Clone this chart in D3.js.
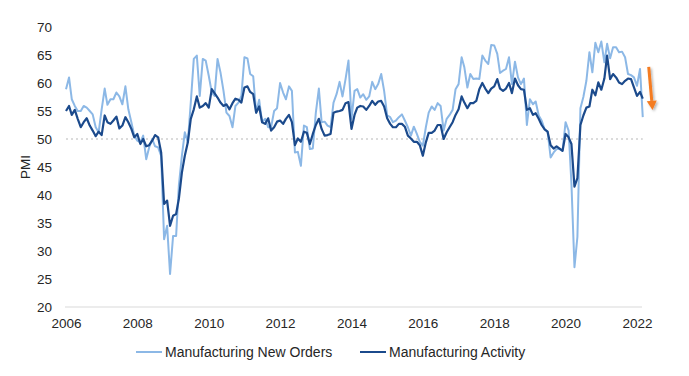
<!DOCTYPE html>
<html lang="en">
<head>
    <meta charset="UTF-8">
    <title>PMI</title>
    <script type="text/javascript" src="https://d3js.org/d3.v7.min.js"></script>
    <style>
        body { margin: 0; background: #fff; }
        text { font-family: "Liberation Sans", Arial, sans-serif; fill: #262626; }
    </style>
</head>
<body>
<svg height="376" width="689"></svg>

<script>

    // monthly, Jan 2006 - Mar 2022
    var startMonth = new Date(2006, 0, 1);
    var seriesNames = ['Manufacturing New Orders', 'Manufacturing Activity'];
    var seriesColors = ['#8cb8e6', '#1b4a8c'];

    var newOrders = [
        58.9, 61.0, 57.1, 55.9, 55.0, 55.0, 55.9, 55.6, 55.0, 54.4, 52.1, 51.2,
        55.3, 59.0, 56.1, 57.1, 57.1, 58.3, 57.6, 56.2, 59.4, 55.3, 53.0, 50.6,
        49.7, 49.4, 50.6, 46.4, 48.5, 50.0, 48.7, 48.5, 47.0, 32.1, 34.5, 25.9,
        32.7, 32.7, 41.7, 47.0, 51.2, 49.4, 56.5, 64.3, 64.9, 57.7, 64.3, 64.0,
        61.3, 58.3, 57.7, 64.3, 61.9, 58.6, 54.7, 54.1, 52.1, 55.9, 56.5, 57.7,
        64.6, 64.4, 61.6, 61.2, 54.7, 57.0, 53.0, 53.6, 52.1, 52.1, 55.0, 55.5,
        60.0, 58.3, 57.1, 59.4, 58.6, 47.6, 47.7, 45.2, 52.4, 52.1, 48.2, 48.3,
        54.7, 59.0, 53.0, 53.1, 52.4, 52.1, 56.5, 58.0, 60.2, 57.6, 60.7, 64.0,
        53.6, 58.6, 58.9, 57.4, 58.0, 57.0, 57.6, 60.2, 58.9, 59.8, 61.6, 58.6,
        54.2, 53.9, 53.0, 53.3, 53.9, 54.4, 53.3, 52.1, 50.6, 52.2, 50.9, 49.5,
        48.8, 52.1, 54.7, 55.8, 55.2, 56.4, 55.9, 51.5, 53.6, 54.3, 55.2, 58.9,
        59.8, 64.6, 62.8, 59.2, 61.6, 60.7, 60.8, 60.7, 64.9, 64.0, 63.4, 66.8,
        66.7, 65.2, 61.8, 62.2, 62.5, 64.6, 59.8, 63.8, 61.0, 59.8, 60.8, 52.5,
        57.1, 56.2, 56.7, 54.2, 53.3, 51.7, 51.3, 46.7, 47.6, 48.2, 48.2, 47.9,
        53.0, 51.5, 42.0, 27.1, 32.5, 55.5, 57.5, 60.4, 65.5, 61.9, 67.2, 65.5,
        67.4, 63.7, 67.0, 64.4, 66.4, 66.4, 65.5, 65.6, 64.6, 61.6, 61.4, 61.0,
        59.5, 62.5, 53.9
    ];

    var activity = [
        55.0, 55.9, 54.3, 55.2, 53.6, 52.1, 53.0, 53.7, 52.4, 51.5, 50.5, 51.3,
        50.7, 54.2, 53.0, 52.7, 53.3, 54.0, 51.9, 52.4, 53.9, 53.0, 51.8, 50.3,
        50.9, 49.1, 50.0, 48.7, 48.9, 49.7, 50.7, 50.3, 47.6, 38.4, 39.0, 34.5,
        36.3, 36.6, 39.3, 44.0, 47.0, 49.4, 53.6, 55.3, 57.6, 55.6, 55.9, 56.4,
        55.6, 58.9, 58.2, 57.4, 56.5, 55.9, 56.2, 55.3, 56.4, 57.2, 57.0, 56.5,
        59.2, 59.4, 58.4, 58.0, 54.7, 55.8, 53.0, 52.7, 53.7, 51.5, 52.1, 53.1,
        53.3, 52.7, 53.6, 54.3, 53.0, 48.9, 50.1, 49.5, 51.3, 51.1, 49.1, 50.9,
        52.5, 53.6, 51.8, 50.6, 50.7, 50.9, 54.7, 54.9, 55.0, 55.2, 56.4, 56.6,
        51.8, 54.3, 55.6, 55.9, 55.8, 55.2, 55.9, 56.8, 56.1, 56.7, 56.8, 55.8,
        53.7, 52.7, 52.1, 52.1, 52.7, 52.7, 52.2, 50.6, 50.1, 49.5, 49.5, 48.9,
        47.0, 49.4, 51.1, 51.1, 51.5, 52.5, 52.5, 50.0, 51.2, 52.1, 53.0, 54.3,
        55.3, 57.6, 56.5, 55.5, 56.4, 56.4, 56.8, 58.9, 60.0, 59.0, 58.2, 59.0,
        59.4, 60.7, 59.0, 58.6, 59.0, 60.0, 58.2, 60.8, 59.6, 58.9, 58.8, 55.2,
        55.5, 54.3, 54.6, 53.6, 52.5, 51.7, 51.3, 48.9, 48.3, 48.7, 48.3, 47.9,
        50.9, 50.3, 49.1, 41.5, 43.0, 52.5, 54.2, 55.6, 55.8, 58.8, 57.8, 60.1,
        58.8, 60.8, 64.9, 60.7, 61.6, 61.0, 60.1, 59.8, 60.4, 60.8, 60.7, 59.2,
        57.7, 58.4, 57.2
    ];

    var yTicks = [20, 25, 30, 35, 40, 45, 50, 55, 60, 65, 70];
    var xTickYears = [2006, 2008, 2010, 2012, 2014, 2016, 2018, 2020, 2022];

    var svg = d3.select('svg');

    var months = d3.range(newOrders.length).map(function (i) {
        return d3.timeMonth.offset(startMonth, i);
    });

    var x = d3.scaleTime()
        .domain([new Date(2006, 0, 1), new Date(2022, 0, 1)])
        .range([66, 637]);
    var y = d3.scaleLinear()
        .domain([20, 70])
        .range([307, 27]);

    // y axis labels
    svg.append('g')
        .attr('transform', 'translate(52,0)')
        .call(d3.axisLeft(y).tickValues(yTicks).tickSize(0).tickPadding(0))
        .call(function (g) { g.select('.domain').remove(); })
        .selectAll('text')
        .style('font-size', '13.5px')
        .attr('fill', '#262626');

    // x axis
    var xAxis = svg.append('g')
        .attr('transform', 'translate(0,307)')
        .call(d3.axisBottom(x)
            .tickValues(xTickYears.map(function (yr) { return new Date(yr, 0, 1); }))
            .tickFormat(d3.timeFormat('%Y'))
            .tickSize(0).tickPadding(11));
    xAxis.select('.domain').remove();
    xAxis.selectAll('text').style('font-size', '13.5px').attr('fill', '#262626');
    svg.append('line')
        .attr('x1', 65).attr('x2', 642)
        .attr('y1', y(20)).attr('y2', y(20))
        .attr('stroke', '#d9d9d9').attr('stroke-width', 1);

    // 50 reference line
    svg.append('line')
        .attr('x1', x(months[0])).attr('x2', x(months[months.length - 1]))
        .attr('y1', y(50)).attr('y2', y(50))
        .attr('stroke', '#cfcfcf')
        .attr('stroke-width', 1.3)
        .attr('stroke-dasharray', '2,3');

    // axis title
    svg.append('text')
        .attr('transform', 'translate(30,' + y(45) + ') rotate(-90)')
        .attr('text-anchor', 'middle')
        .style('font-size', '13.5px')
        .text('PMI');

    var line = d3.line()
        .x(function (d, i) { return x(months[i]); })
        .y(function (d) { return y(d); });

    [newOrders, activity].forEach(function (vals, k) {
        svg.append('path')
            .datum(vals)
            .attr('d', line)
            .attr('fill', 'none')
            .attr('stroke', seriesColors[k])
            .attr('stroke-width', k === 1 ? 2.2 : 2)
            .attr('stroke-linejoin', 'round');
    });

    // orange arrow
    var defs = svg.append('defs');
    var f = defs.append('filter').attr('id', 'shadow')
        .attr('x', '-50%').attr('y', '-50%').attr('width', '200%').attr('height', '200%');
    f.append('feDropShadow').attr('dx', 1.5).attr('dy', 1.5).attr('stdDeviation', 1.2)
        .attr('flood-color', '#000').attr('flood-opacity', 0.3);

    var ax1 = x(new Date(2022, 4, 1)), ay1 = y(62.9);
    var ax2 = x(new Date(2022, 5, 1)), ay2 = y(56.8);
    var ang = Math.atan2(ay2 - ay1, ax2 - ax1);
    var head = 9, half = 5;
    var tipX = ax2 + Math.cos(ang) * head, tipY = ay2 + Math.sin(ang) * head;
    var arrow = svg.append('g').attr('filter', 'url(#shadow)');
    arrow.append('line')
        .attr('x1', ax1).attr('y1', ay1).attr('x2', ax2).attr('y2', ay2)
        .attr('stroke', '#f47b20').attr('stroke-width', 3);
    arrow.append('path')
        .attr('d', 'M' + (ax2 + Math.cos(ang + Math.PI / 2) * half) + ',' + (ay2 + Math.sin(ang + Math.PI / 2) * half) +
            'L' + tipX + ',' + tipY +
            'L' + (ax2 - Math.cos(ang + Math.PI / 2) * half) + ',' + (ay2 - Math.sin(ang + Math.PI / 2) * half) + 'Z')
        .attr('fill', '#f47b20');

    // legend
    var legendX = [136, 360];
    var legend = svg.selectAll('.legend')
        .data(seriesNames)
        .enter()
        .append('g')
        .attr('transform', function (d, i) { return 'translate(' + legendX[i] + ',352)'; });
    legend.append('line')
        .attr('x1', 0).attr('x2', 26)
        .attr('stroke', function (d, i) { return seriesColors[i]; })
        .attr('stroke-width', 2);
    legend.append('text')
        .attr('x', 29).attr('y', 5)
        .style('font-size', '14px')
        .text(function (d) { return d; });
</script>
</body>
</html>
